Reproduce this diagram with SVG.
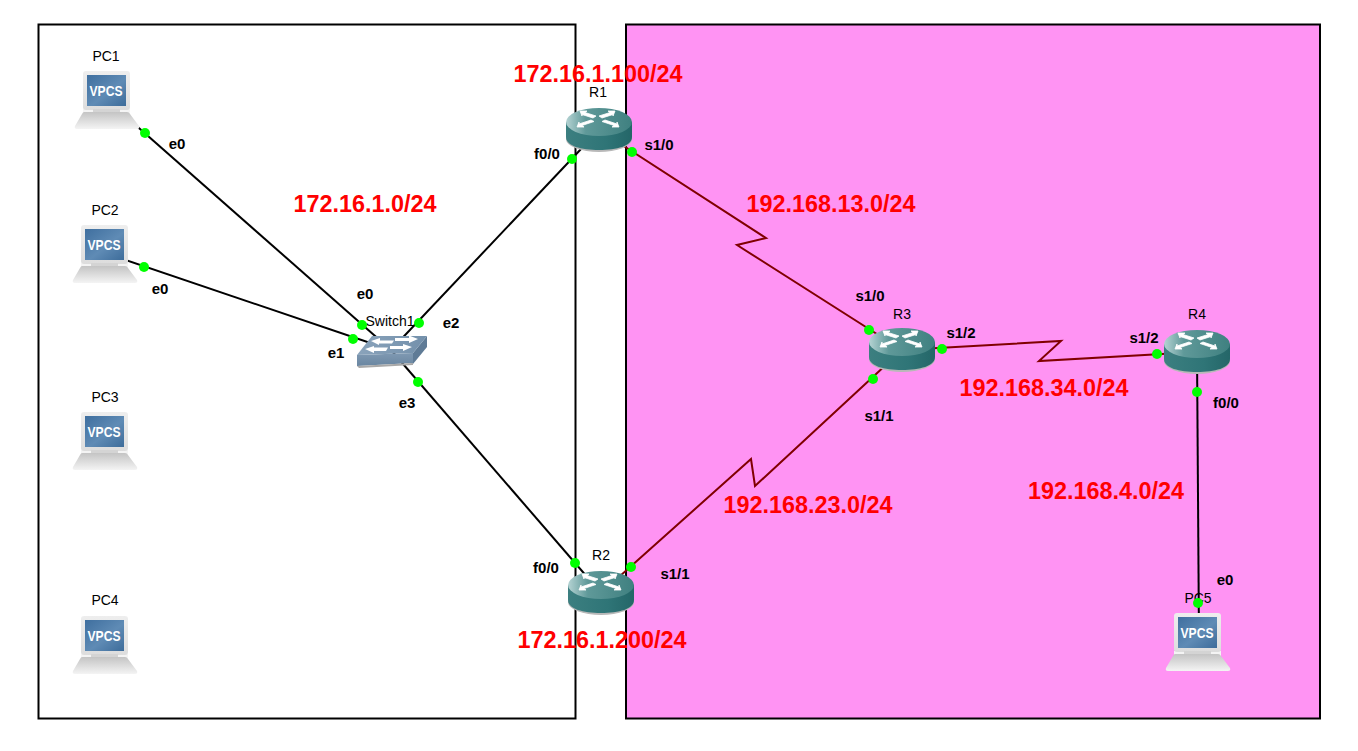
<svg xmlns="http://www.w3.org/2000/svg" width="1358" height="751" viewBox="0 0 1358 751">
<style>
text{font-family:"Liberation Sans",Arial,sans-serif;fill:#000}
.name{font-size:14px;text-anchor:middle}
.port{font-size:15px;font-weight:bold;text-anchor:middle}
.net{font-size:23.4px;font-weight:bold;fill:#f00;text-anchor:middle}
.vp{font-size:14px;font-weight:bold;fill:#fff;text-anchor:middle}
.eth{fill:none;stroke:#000;stroke-width:2}
.ser{fill:none;stroke:#800000;stroke-width:2}
.dot{fill:#0f0}
.wh{fill:#fff;stroke:#fff;stroke-width:0.8}
</style>
<defs>
<linearGradient id="scr" x1="0" y1="0" x2="1" y2="1"><stop offset="0" stop-color="#3f6f9f"/><stop offset="0.55" stop-color="#5f8bb5"/><stop offset="1" stop-color="#3d6c9a"/></linearGradient>
<linearGradient id="mon" x1="0" y1="0" x2="0" y2="1"><stop offset="0" stop-color="#eeeeee"/><stop offset="1" stop-color="#dddddd"/></linearGradient>
<linearGradient id="base" x1="0" y1="0" x2="0" y2="1"><stop offset="0" stop-color="#c4c4c4"/><stop offset="1" stop-color="#f4f4f4"/></linearGradient>
<linearGradient id="rtop" x1="0" y1="0" x2="1" y2="0"><stop offset="0" stop-color="#b5d3d3"/><stop offset="0.3" stop-color="#5f9999"/><stop offset="1" stop-color="#3f8080"/></linearGradient>
<linearGradient id="rside" x1="0" y1="0" x2="1" y2="0"><stop offset="0" stop-color="#3c7f80"/><stop offset="0.6" stop-color="#2f7577"/><stop offset="1" stop-color="#246668"/></linearGradient>
<linearGradient id="stop" x1="0" y1="0" x2="1" y2="0"><stop offset="0" stop-color="#8aa3bb"/><stop offset="1" stop-color="#7390ab"/></linearGradient>
<linearGradient id="sfront" x1="0" y1="0" x2="0" y2="1"><stop offset="0" stop-color="#7f99b2"/><stop offset="1" stop-color="#6a86a1"/></linearGradient>
<g id="pc">
<rect x="8" y="38" width="47" height="5" fill="#f4f4f4"/>
<rect x="8" y="0" width="47" height="39" rx="3" fill="url(#mon)"/>
<rect x="12" y="4" width="39" height="31" fill="url(#scr)"/>
<text class="vp" x="31" y="25" textLength="33" lengthAdjust="spacingAndGlyphs">VPCS</text>
<rect x="18" y="38" width="27" height="4" fill="#d4d4d4"/>
<path d="M9 41H52Q54 41 55 43L64 55Q65 58 62 58H2Q-1 58 0 55L7 43Q8 41 9 41Z" fill="url(#base)"/>
</g>
<g id="router">
<ellipse cx="33" cy="31" rx="33" ry="13" fill="#b8b8b8"/>
<path d="M0 14V29C0 38 15 42 33 42S66 38 66 29V14Z" fill="url(#rside)"/>
<ellipse cx="33" cy="14" rx="33" ry="14" fill="url(#rtop)"/>
<path class="wh" d="M14 3L21 3L19 4.500L30 8L27 10L16 6.500L16 8ZM49 3L42 3L44 4.500L33 8L36 10L47 6.500L47 8ZM11 19L18 19L16 17.500L28 13.500L25 12L13 16L13 14ZM53 19L46 19L48 17.500L36 13.500L39 12L51 16L51 14Z"/>
</g>
<g id="switch">
<path d="M57 18L71 1V12L57 29Z" fill="#5f7b96"/>
<path d="M1 20L57 18V28L1 31Z" fill="url(#sfront)"/>
<path d="M1 31L57 28V30L3 33Z" fill="#a8a8a8"/>
<path d="M1 20L16 1H71L57 18Z" fill="url(#stop)"/>
<path d="M15 6L24 3V5.500H38L36 8.500H23V10ZM62 4L53 0.500V3H39V6H53V8ZM9 14L18 11V12.500H32L30 16H18V18ZM56 12L47 9V11H34V14H47V16Z" fill="#fff"/>
</g>
</defs>
<rect x="38.500" y="24.500" width="537" height="694" fill="#fff" stroke="#000" stroke-width="2"/>
<rect x="626" y="24.500" width="694" height="694" fill="#ff93f3" stroke="#000" stroke-width="2"/>
<g id="connectors">
<path class="eth" d="M106 99L391 350"/>
<path class="eth" d="M105 253L391 350"/>
<path class="eth" d="M391 350L599 130"/>
<path class="eth" d="M391 350L601 593"/>
<path class="ser" d="M599 130L766 238L737 245L902 350"/>
<path class="ser" d="M601 593L751 459L755 486L902 350"/>
<path class="ser" d="M902 350L1061 341L1039 361L1197 352"/>
<path class="eth" d="M1197 352L1199 640"/>
</g>
<g id="PC1"><use href="#pc" x="75" y="71"/><text class="name" x="106" y="61">PC1</text></g>
<g id="PC2"><use href="#pc" x="73" y="225"/><text class="name" x="105" y="215">PC2</text></g>
<g id="PC3"><use href="#pc" x="73" y="412"/><text class="name" x="105" y="402">PC3</text></g>
<g id="PC4"><use href="#pc" x="73" y="616"/><text class="name" x="105" y="605">PC4</text></g>
<g id="PC5"><use href="#pc" x="1166" y="613"/><text class="name" x="1198" y="603">PC5</text></g>
<g id="Switch1"><use href="#switch" x="356" y="335"/><text class="name" x="390" y="326">Switch1</text></g>
<g id="R1"><use href="#router" x="566" y="108"/><text class="name" x="598" y="97">R1</text></g>
<g id="R2"><use href="#router" x="568" y="571"/><text class="name" x="601" y="560">R2</text></g>
<g id="R3"><use href="#router" x="869" y="328"/><text class="name" x="902" y="319">R3</text></g>
<g id="R4"><use href="#router" x="1164" y="330"/><text class="name" x="1197" y="319">R4</text></g>
<g id="endpoints">
<circle class="dot" cx="145" cy="133" r="5"/><circle class="dot" cx="144" cy="267" r="5"/>
<circle class="dot" cx="362" cy="325" r="5"/><circle class="dot" cx="353" cy="339" r="5"/>
<circle class="dot" cx="419" cy="323" r="5"/><circle class="dot" cx="418" cy="382" r="5"/>
<circle class="dot" cx="572" cy="159" r="5"/><circle class="dot" cx="632" cy="152" r="5"/>
<circle class="dot" cx="575" cy="563" r="5"/><circle class="dot" cx="631" cy="567" r="5"/>
<circle class="dot" cx="869" cy="330" r="5"/><circle class="dot" cx="873" cy="379" r="5"/>
<circle class="dot" cx="942" cy="349" r="5"/><circle class="dot" cx="1157" cy="354" r="5"/>
<circle class="dot" cx="1197" cy="392" r="5"/><circle class="dot" cx="1198" cy="603" r="5"/>
</g>
<g id="port-labels">
<text class="port" x="177" y="149">e0</text><text class="port" x="160" y="294">e0</text>
<text class="port" x="365" y="299">e0</text><text class="port" x="336" y="358">e1</text>
<text class="port" x="451" y="328">e2</text><text class="port" x="407" y="408">e3</text>
<text class="port" x="547" y="159">f0/0</text><text class="port" x="659" y="150">s1/0</text>
<text class="port" x="546" y="573">f0/0</text><text class="port" x="675" y="579">s1/1</text>
<text class="port" x="870" y="301">s1/0</text><text class="port" x="879" y="421">s1/1</text>
<text class="port" x="961" y="338">s1/2</text><text class="port" x="1144" y="343">s1/2</text>
<text class="port" x="1226" y="408">f0/0</text><text class="port" x="1225" y="585">e0</text>
</g>
<g id="network-labels">
<text class="net" x="598" y="82">172.16.1.100/24</text>
<text class="net" x="365" y="212">172.16.1.0/24</text>
<text class="net" x="602" y="648">172.16.1.200/24</text>
<text class="net" x="831" y="212">192.168.13.0/24</text>
<text class="net" x="1044" y="396">192.168.34.0/24</text>
<text class="net" x="808" y="513">192.168.23.0/24</text>
<text class="net" x="1106" y="499">192.168.4.0/24</text>
</g>
</svg>
